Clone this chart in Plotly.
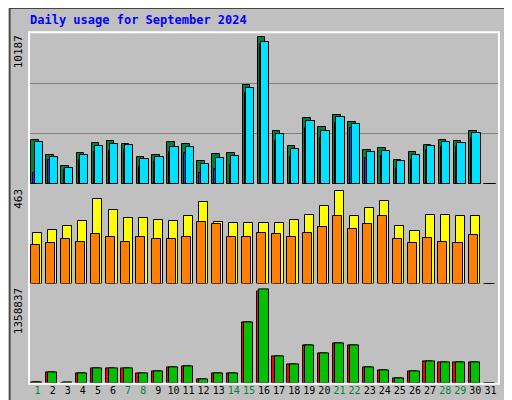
import plotly.graph_objects as go

days = list(range(1, 32))
hits_px = [132,147,158,145,135,133,136,149,147,134,136,153,146,145,77,29,123,138,110,119,107,114,142,140,152,144,137,132,133,123,176]
pages_px = [134,149,160,147,138,136,137,151,149,139,139,156,150,148,80,34,126,141,113,123,109,116,144,143,153,147,138,134,135,125,176]
files_px = [165,152,162,152,144,143,142,159,154,144,145,165,161,157,85,36,133,149,120,130,115,120,150,148,160,152,142,139,139,130,176]
hits = [round((176-p)*69.3) for p in hits_px]
pages = [round((176-p)*69.3) for p in pages_px]
files = [round((176-p)*69.3) for p in files_px]
visits_px = [226,223,219,214,192,203,211,211,213,214,209,195,215,216,216,216,216,213,208,199,184,209,201,194,219,224,208,208,209,209,276]
sites_px = [238,236,232,235,227,230,235,230,232,232,230,215,217,230,230,226,227,230,226,220,209,222,217,209,232,236,231,235,236,228,276]
visits = [round((276-p)*5.03) for p in visits_px]
sites = [round((276-p)*5.03) for p in sites_px]
kbout_px = [375,366,375,367,362,362,362,367,365,361,360,372,367,367,317,284,350,358,339,347,337,339,361,364,371,365,355,356,356,356,376]
kbf_px = [375,366,376,367,362,362,362,367,365,361,360,372,367,367,317,286,350,358,339,347,337,339,361,364,371,365,355,356,356,356,376]
kbout = [round((376-p)*14770) for p in kbout_px]
kbf = [round((376-p)*14770) for p in kbf_px]
weekend = {1,7,8,14,15,21,22,28,29}
maxes = ["10187", "463", "1358837"]

fig = go.Figure()
line = dict(color="black", width=1)
def bar(y, off, w, color, ax):
    fig.add_trace(go.Bar(x=days, y=y, offset=off, width=w, marker=dict(color=color, line=line),
                         xaxis="x", yaxis=ax, showlegend=False))
bar(hits, -0.42, 0.5, "#008040", "y")
bar(files, -0.28, 0.2, "#0040ff", "y")
bar(pages, -0.2, 0.55, "#00e0ff", "y")
bar(visits, -0.3, 0.6, "#ffff00", "y2")
bar(sites, -0.45, 0.6, "#ff8000", "y2")
bar(kbf, -0.45, 0.6, "#ff0000", "y3")
bar(kbout, -0.3, 0.6, "#00c000", "y3")

ticktext = [f"<span style='color:{'#008040' if d in weekend else '#000000'}'>{d}</span>" for d in days]
fig.update_layout(
    width=512, height=400, margin=dict(l=22, r=22, t=25, b=23),
    paper_bgcolor="#c0c0c0", plot_bgcolor="#c0c0c0", barmode="overlay", bargap=0,
    font=dict(family="DejaVu Sans Mono", size=11, color="black"),
    xaxis=dict(range=[0.5, 31.5], tickvals=days, ticktext=ticktext, showgrid=False, tickangle=0,
               ticks="", anchor="y3", zeroline=False, tickfont=dict(size=10)),
    yaxis=dict(domain=[0.568, 1], range=[0, 10187*1.03], showticklabels=False,
               tickvals=[10187*1.03/3, 10187*1.03*2/3], gridcolor="#808080", zeroline=False,
               showline=True, linecolor="white", mirror=True),
    yaxis2=dict(domain=[0.284, 0.56], range=[0, 463*1.04], showticklabels=False, showgrid=False,
                zeroline=False, showline=True, linecolor="white", mirror=True),
    yaxis3=dict(domain=[0, 0.276], range=[0, 1358837*1.03], showticklabels=False, showgrid=False,
                zeroline=False, showline=True, linecolor="white", mirror=True),
    shapes=[dict(type="rect", xref="paper", yref="paper", x0=-0.043, x1=1.043, y0=-0.065, y1=1.071,
                 line=dict(color="black", width=1)),
            dict(type="rect", xref="paper", yref="paper", x0=-0.002, x1=1.002, y0=-0.002, y1=1.002,
                 line=dict(color="white", width=2))],
)
ann = [dict(text="<b>Daily usage for September 2024</b>", xref="paper", yref="paper", x=-0.005, y=1.01,
            xanchor="left", yanchor="bottom", showarrow=False, font=dict(color="#0000ff", size=12))]
for m, ytop in zip(maxes, [1.0, 0.56, 0.276]):
    ann.append(dict(text=m, textangle=-90, xref="paper", yref="paper", x=-0.024, y=ytop,
                    xanchor="center", yanchor="top", showarrow=False, font=dict(size=11)))
legends = [
    ("<span style='color:#00e0ff'>Pages</span> / <span style='color:#0040ff'>Files</span> / <span style='color:#008040'>Hits</span>", 0.784),
    ("<span style='color:#ff8000'>Sites</span> / <span style='color:#ffff00'>Visits</span>", 0.422),
    ("<span style='color:#ff0000'>KB F</span> / <span style='color:#0040ff'>KB In</span> / <span style='color:#00c000'>KB Out</span>", 0.138),
]
for t, yc in legends:
    ann.append(dict(text=t, textangle=-90, xref="paper", yref="paper", x=1.024, y=yc,
                    xanchor="center", yanchor="middle", showarrow=False, font=dict(size=10)))
fig.update_layout(annotations=ann)
fig.write_html("out.html")
